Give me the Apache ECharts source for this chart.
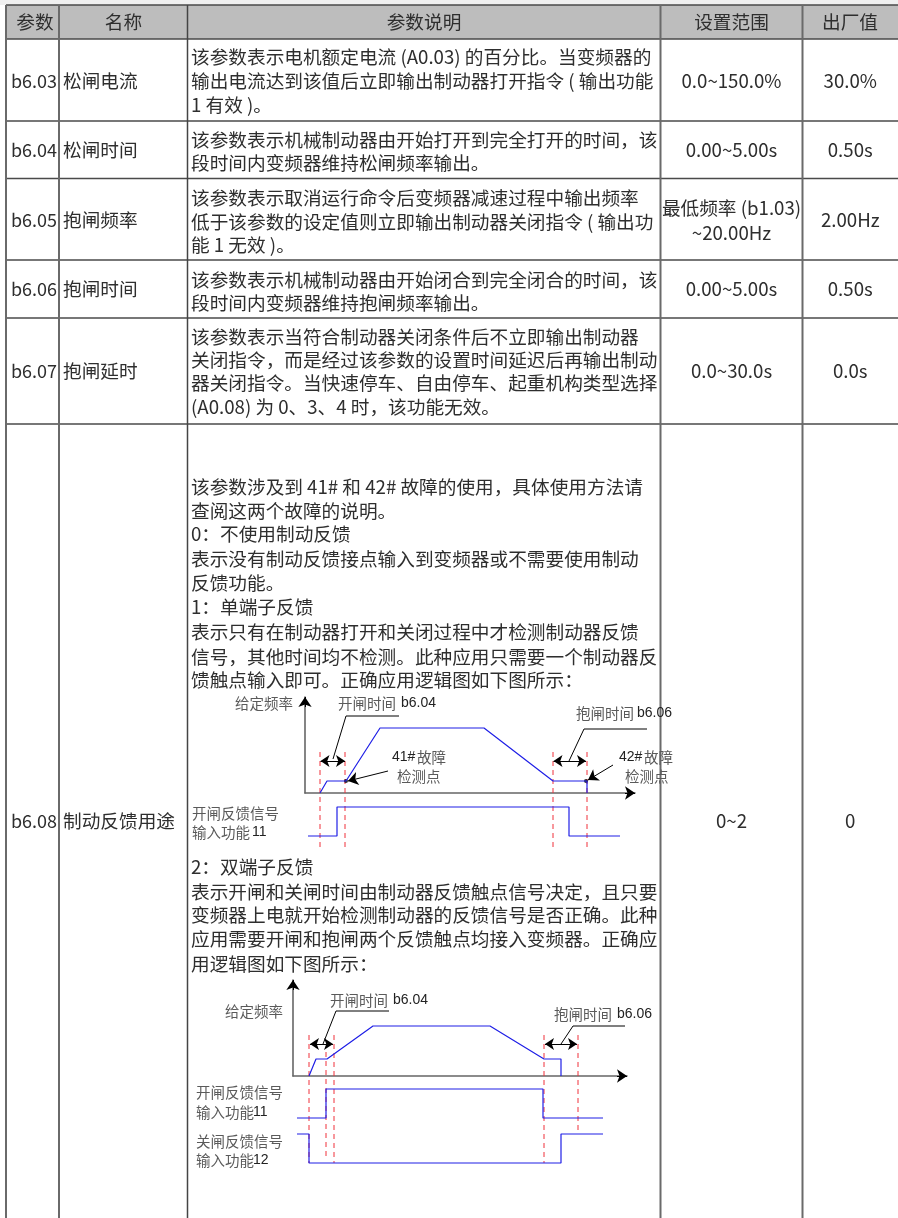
<!DOCTYPE html>
<html>
<head>
<meta charset="utf-8">
<style>
  html, body { margin: 0; padding: 0; background: #fff; }
  #chart { width: 898px; height: 1218px; }
</style>
<script src="https://cdn.jsdelivr.net/npm/echarts@6/dist/echarts.min.js"></script>
</head>
<body>
<div id="chart"></div>
<script>
// table rules
const columnX = [6, 59, 187.5, 660.5, 802.5];
const rowY = [5, 39, 121, 178.5, 260, 318, 424];
const headers = ["参数", "名称", "参数说明", "设置范围", "出厂值"];
const headerX = [35, 123.5, 424, 731.5, 850];

// table cells, top row to bottom row
const paramCodes = ["b6.03", "b6.04", "b6.05", "b6.06", "b6.07", "b6.08"];
const paramNames = ["松闸电流", "松闸时间", "抱闸频率", "抱闸时间", "抱闸延时", "制动反馈用途"];
const ranges = [["0.0~150.0%"], ["0.00~5.00s"], ["最低频率 (b1.03)", "~20.00Hz"], ["0.00~5.00s"], ["0.0~30.0s"], ["0~2"]];
const defaults = ["30.0%", "0.50s", "2.00Hz", "0.50s", "0.0s", "0"];
const rowMiddle = [81, 150, 220, 289, 371, 821];
const descLines = [
  [57, "该参数表示电机额定电流 (A0.03) 的百分比。当变频器的"],
  [81, "输出电流达到该值后立即输出制动器打开指令 ( 输出功能"],
  [105, "1 有效 )。"],
  [140, "该参数表示机械制动器由开始打开到完全打开的时间，该"],
  [163, "段时间内变频器维持松闸频率输出。"],
  [198, "该参数表示取消运行命令后变频器减速过程中输出频率"],
  [222, "低于该参数的设定值则立即输出制动器关闭指令 ( 输出功"],
  [245, "能 1 无效 )。"],
  [280, "该参数表示机械制动器由开始闭合到完全闭合的时间，该"],
  [303, "段时间内变频器维持抱闸频率输出。"],
  [337, "该参数表示当符合制动器关闭条件后不立即输出制动器"],
  [360, "关闭指令，而是经过该参数的设置时间延迟后再输出制动"],
  [383, "器关闭指令。当快速停车、自由停车、起重机构类型选择"],
  [407, "(A0.08) 为 0、3、4 时，该功能无效。"],
  [487, "该参数涉及到 41# 和 42# 故障的使用，具体使用方法请"],
  [511, "查阅这两个故障的说明。"],
  [534, "0：不使用制动反馈"],
  [559, "表示没有制动反馈接点输入到变频器或不需要使用制动"],
  [583, "反馈功能。"],
  [607, "1：单端子反馈"],
  [632, "表示只有在制动器打开和关闭过程中才检测制动器反馈"],
  [657, "信号，其他时间均不检测。此种应用只需要一个制动器反"],
  [680, "馈触点输入即可。正确应用逻辑图如下图所示："],
  [867, "2：双端子反馈"],
  [892, "表示开闸和关闸时间由制动器反馈触点信号决定，且只要"],
  [915, "变频器上电就开始检测制动器的反馈信号是否正确。此种"],
  [939, "应用需要开闸和抱闸两个反馈触点均接入变频器。正确应"],
  [964, "用逻辑图如下图所示："]
];

// first timing diagram: [time, level], origin on the axes corner
const d1Freq = [[15, 0], [22, 12], [41, 12], [75, 65], [179, 65], [248, 12], [282, 12], [282, 0]];
const d1Signals = [[[3, -43], [32, -43], [32, -14], [264, -14], [264, -43], [315, -43]]];
const d1Markers = [[15, 41, -58], [40, 41, -58], [248, 41, -58], [282, 41, -58]];
const d1Spans = [[[15.5, 32], [40, 32]], [[248.5, 32], [281, 32]]];
const d1Leaders = [[[28, 34], [41, 77], [94, 77]], [[264, 32], [279, 64], [342, 64]]];
const d1Pointers = [[[83, 22], [43, 12]], [[308, 28], [283, 13]]];
const d1Dots = [[41, 12], [281, 12]];
const d1Cjk = [[-70, 90, "给定频率"], [33, 90, "开闸时间"], [271, 80, "抱闸时间"], [112, 36, "故障"], [92, 17, "检测点"],
  [339, 36, "故障"], [320, 17, "检测点"], [-113, -20, "开闸反馈信号"], [-113, -39, "输入功能"]];
const d1Latin = [[96, 90, "b6.04"], [332, 80, "b6.06"], [87, 36, "41#"], [314, 36, "42#"], [-53, -39, "11"]];

// second timing diagram
const d2Freq = [[16, 0], [23, 17], [34, 17], [80, 50], [197, 50], [251, 17], [268, 17], [268, 0]];
const d2Signals = [
  [[4, -42], [33, -42], [33, -13], [250, -13], [250, -42], [310, -42]],
  [[4, -58], [16, -58], [16, -87], [268, -87], [268, -58], [310, -58]]
];
const d2Markers = [[16, 41, -87], [33, 24, -84], [41, 41, -87], [251, 41, -87], [285, 41, -58]];
const d2Spans = [[[17, 32], [40, 32]], [[252, 32], [284, 32]]];
const d2Leaders = [[[30, 32], [43, 65], [96, 65]], [[268, 32], [280, 50], [332, 50]]];
const d2Cjk = [[-68, 65, "给定频率"], [37, 76, "开闸时间"], [261, 62, "抱闸时间"], [-97, -16, "开闸反馈信号"],
  [-97, -36, "输入功能"], [-97, -65, "关闸反馈信号"], [-97, -84, "输入功能"]];
const d2Latin = [[100, 76, "b6.04"], [324, 62, "b6.06"], [-40, -36, "11"], [-40, -84, "12"]];

const CJK_FONT = '"Noto Sans CJK SC", "Noto Sans", sans-serif';
const LATIN_FONT = '"Liberation Sans", Arial, sans-serif';
const BLUE = "#1f1fe6";

function textSeries(items, axis, style) {
  return {
    type: "custom",
    xAxisIndex: axis,
    yAxisIndex: axis,
    silent: true,
    clip: false,
    data: items.map((d) => [d[0], d[1]]),
    renderItem: (params, api) => {
      const pos = api.coord([api.value(0), api.value(1)]);
      return {
        type: "text",
        x: pos[0],
        y: pos[1],
        style: {
          text: items[params.dataIndex][2],
          fontFamily: style.font,
          fontSize: style.size,
          fill: style.color,
          align: style.align || "left",
          verticalAlign: "middle",
        },
      };
    },
  };
}

function linesSeries(coords, axis, lineStyle, extra) {
  return Object.assign({
    type: "lines",
    coordinateSystem: "cartesian2d",
    xAxisIndex: axis,
    yAxisIndex: axis,
    silent: true,
    polyline: true,
    lineStyle: Object.assign({ opacity: 1 }, lineStyle),
    data: coords.map((c) => ({ coords: c })),
  }, extra);
}

function waveSeries(points, axis) {
  return {
    type: "line",
    xAxisIndex: axis,
    yAxisIndex: axis,
    silent: true,
    showSymbol: false,
    lineStyle: { color: BLUE, width: 1.2 },
    data: points,
  };
}

const hidden = { show: false };

function valueAxis(gridIndex, min, max, show) {
  return {
    type: "value",
    gridIndex: gridIndex,
    min: min,
    max: max,
    splitLine: hidden,
    axisTick: hidden,
    axisLabel: hidden,
    axisLine: show ? { show: true, onZero: true, lineStyle: { color: "#666", width: 1.6 } } : hidden,
  };
}

// [page grid, axes-only grid, overlay grid] for a diagram
const grids = [{ left: 0, top: 0, width: 898, height: 1218 }];
const xAxes = [valueAxis(0, 0, 898, false)];
const yAxes = [Object.assign(valueAxis(0, 0, 1218, false), { inverse: true })];
const series = [];

function addDiagram(d) {
  const axesGrid = grids.length;
  const overlay = axesGrid + 1;
  grids.push({ left: d.originX, top: d.originY - d.yMax, width: d.xMax, height: d.yMax });
  xAxes.push(valueAxis(axesGrid, 0, d.xMax, true));
  yAxes.push(valueAxis(axesGrid, 0, d.yMax, true));
  grids.push({ left: d.originX - 130, top: d.originY - 110, width: 500, height: 210 });
  xAxes.push(valueAxis(overlay, -130, 370, false));
  yAxes.push(valueAxis(overlay, -100, 110, false));

  series.push(waveSeries(d.freq, axesGrid));
  d.signals.forEach((s) => series.push(waveSeries(s, overlay)));
  series.push(linesSeries(d.markers.map((m) => [[m[0], m[1]], [m[0], m[2]]]), overlay,
    { color: "#f0303a", width: 1, type: [5, 4] }));
  series.push(linesSeries(d.spans, overlay, { color: "#000", width: 1.2 },
    { polyline: false, symbol: ["arrow", "arrow"], symbolSize: 9 }));
  series.push(linesSeries(d.leaders, overlay, { color: "#000", width: 1 }));
  const tips = [[[d.xMax - 10, 0], [d.xMax, 0]], [[0, d.yMax - 10], [0, d.yMax]]].concat(d.pointers || []);
  series.push(linesSeries(tips, overlay, { color: "#000", width: 1 },
    { polyline: false, symbol: ["none", "arrow"], symbolSize: 10 }));
  if (d.dots) {
    series.push({
      type: "scatter",
      xAxisIndex: overlay,
      yAxisIndex: overlay,
      silent: true,
      symbolSize: 4,
      itemStyle: { color: "#000" },
      data: d.dots,
    });
  }
  series.push(textSeries(d.cjk, overlay, { font: CJK_FONT, size: 14.5, color: "#5a5a5a" }));
  series.push(textSeries(d.latin, overlay, { font: LATIN_FONT, size: 14, color: "#222" }));
}

// header band and top margin
series.push({
  type: "custom",
  xAxisIndex: 0,
  yAxisIndex: 0,
  silent: true,
  data: [[0, 0, 898, rowY[0]], [columnX[0], rowY[0], 898, rowY[1]]],
  renderItem: (params, api) => {
    const a = api.coord([api.value(0), api.value(1)]);
    const b = api.coord([api.value(2), api.value(3)]);
    return {
      type: "rect",
      shape: { x: a[0], y: a[1], width: b[0] - a[0], height: b[1] - a[1] },
      style: { fill: params.dataIndex ? "#bdbdbd" : "#f0f0f0" },
    };
  },
});

// table rules, the description column's left rule is darker and thinner
const ruleOf = (x) => [[x, rowY[0]], [x, 1218]];
series.push(linesSeries(rowY.map((y) => [[columnX[0], y], [898, y]]), 0, { color: "#4a4a4a", width: 1.5 }));
series.push(linesSeries(columnX.filter((x, i) => i !== 2).map(ruleOf), 0, { color: "#6a6a6a", width: 2 }));
series.push(linesSeries([ruleOf(columnX[2])], 0, { color: "#444", width: 1.5 }));

const columnCenter = (i) => (columnX[i] + (columnX[i + 1] || 898)) / 2;
const headerRow = headers.map((h, i) => [headerX[i], 22, h]);
const rangeLines = [];
ranges.forEach((r, i) => {
  r.forEach((line, j) => {
    rangeLines.push([columnCenter(3), rowMiddle[i] + (j - (r.length - 1) / 2) * 25, line]);
  });
});
const tableStyle = { font: CJK_FONT, size: 18.67, color: "#2e2e2e" };
series.push(textSeries(headerRow, 0, Object.assign({ align: "center" }, tableStyle)));
series.push(textSeries(paramCodes.map((c, i) => [11, rowMiddle[i], c]), 0, Object.assign({}, tableStyle, { size: 18 })));
series.push(textSeries(paramNames.map((n, i) => [63, rowMiddle[i], n]), 0, tableStyle));
series.push(textSeries(descLines.map((l) => [191, l[0], l[1]]), 0, tableStyle));
series.push(textSeries(rangeLines, 0, Object.assign({ align: "center" }, tableStyle)));
series.push(textSeries(defaults.map((v, i) => [columnCenter(4), rowMiddle[i], v]), 0,
  Object.assign({ align: "center" }, tableStyle)));

addDiagram({
  originX: 305, originY: 793, xMax: 330, yMax: 96,
  freq: d1Freq, signals: d1Signals, markers: d1Markers, spans: d1Spans,
  leaders: d1Leaders, pointers: d1Pointers, dots: d1Dots, cjk: d1Cjk, latin: d1Latin,
});
addDiagram({
  originX: 293, originY: 1076, xMax: 334, yMax: 96,
  freq: d2Freq, signals: d2Signals, markers: d2Markers, spans: d2Spans,
  leaders: d2Leaders, cjk: d2Cjk, latin: d2Latin,
});

const chart = echarts.init(document.getElementById("chart"));
chart.setOption({
  animation: false,
  backgroundColor: "#fff",
  grid: grids,
  xAxis: xAxes,
  yAxis: yAxes,
  series: series,
});
</script>
</body>
</html>
